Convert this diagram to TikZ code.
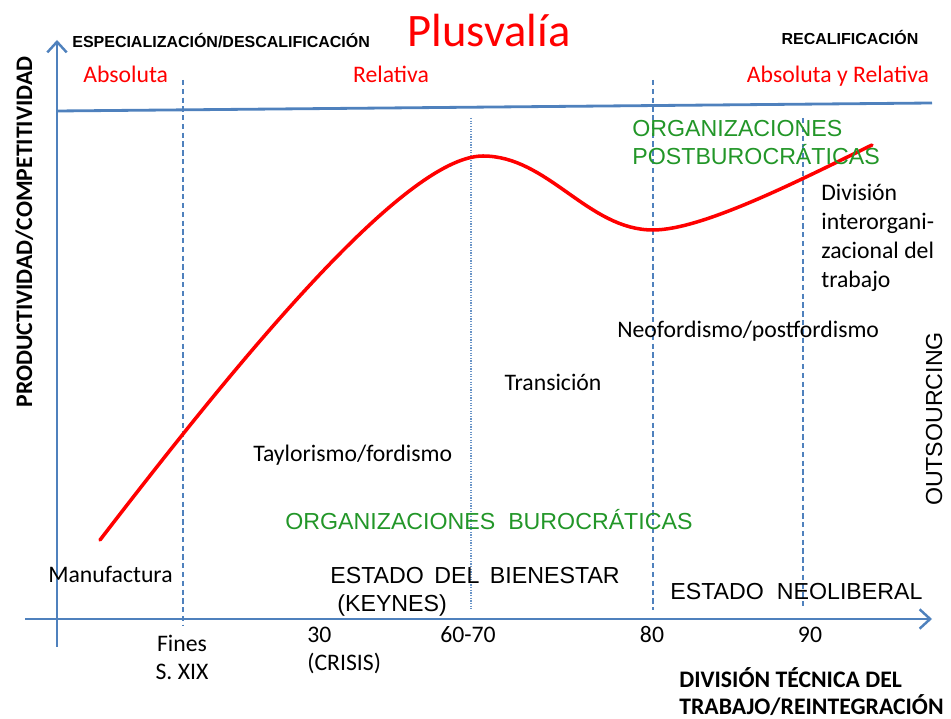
\documentclass[tikz,border=0pt]{standalone}
\usepackage{fontspec}
\setmainfont{Carlito}
\newfontfamily\arialfont{Liberation Sans}
\usetikzlibrary{arrows.meta}

\definecolor{axisblue}{RGB}{79,129,189}
\definecolor{orggreen}{RGB}{34,150,40}
\definecolor{plusred}{RGB}{255,0,0}

\begin{document}
\begin{tikzpicture}[x=0.02cm,y=-0.02cm,
		txt/.style={inner sep=0pt, font=\fontsize{13.5}{16}\selectfont},
		redtxt/.style={txt, text=plusred},
		captxt/.style={inner sep=0pt, font=\arialfont\fontsize{13.2}{16}\selectfont},
		greentxt/.style={captxt, text=orggreen},
		smallcap/.style={inner sep=0pt, font=\arialfont\bfseries\fontsize{9.1}{10}\selectfont},
		axisline/.style={axisblue, line width=1.6pt},
		eraline/.style={axisblue, line width=1.1pt, dash pattern=on 3pt off 2pt}]
				
				\useasboundingbox (0,0) rectangle (951,719);
				
				% axes
				\coordinate (yBot) at (57,647);
				\coordinate (yTop) at (57,40);
				\coordinate (xLeft) at (25,619);
				\coordinate (xRight) at (932,619);
				\draw[axisline, -{Straight Barb[length=6pt, width=11pt, line width=1.4pt]}] (yBot) -- (yTop);
				\draw[axisline, -{Straight Barb[length=6pt, width=11pt, line width=1.4pt]}] (xLeft) -- (xRight);
				\coordinate (topL) at (57,111);
				\coordinate (topR) at (932,103);
				\draw[axisline] (topL) -- (topR);
				
				% periods
				\coordinate (finesTop) at (183,80);
				\coordinate (finesBot) at (183,625);
				\draw[eraline] (finesTop) -- (finesBot);
				\coordinate (crisisTop) at (471,118);
				\coordinate (crisisBot) at (471,610);
				\draw[axisblue!85, line width=0.6pt, dash pattern=on 0.7pt off 0.8pt] (crisisTop) -- (crisisBot);
				\coordinate (ochTop) at (653,80);
				\coordinate (ochBot) at (653,610);
				\draw[eraline] (ochTop) -- (ochBot);
				\coordinate (novTop) at (803,118);
				\coordinate (novBot) at (803,608);
				\draw[eraline] (novTop) -- (novBot);
				
				% plusvalia curve
				\coordinate (cStart) at (100,540);
				\coordinate (cPeak) at (483,156);
				\coordinate (cLow) at (653,230);
				\coordinate (cEnd) at (872,145);
				\draw[plusred, line width=2pt, line cap=round] (cStart) .. controls (230,371) and (403,156) .. (cPeak)
					.. controls (548,156) and (588,230) .. (cLow)
					.. controls (703,230) and (802,179) .. (cEnd);
				
				\node[redtxt, anchor=base, font=\fontsize{26.5}{30}\selectfont] (lblTitle) at (489,47) {Plusvalía};
				\node[smallcap, anchor=base west] (lblEsp) at (72,48) {ESPECIALIZACIÓN/DESCALIFICACIÓN};
				\node[smallcap, anchor=base] (lblRecal) at (850,45) {RECALIFICACIÓN};
				\node[redtxt, anchor=base west] (lblAbs) at (83,83) {Absoluta};
				\node[redtxt, anchor=base] (lblRel) at (391,83) {Relativa};
				\node[redtxt, anchor=base] (lblAbsRel) at (838,83) {Absoluta y Relativa};
				
				\node[greentxt, anchor=base west] (lblPost) at (632,137) {ORGANIZACIONES};
				\node[greentxt, anchor=base west] (lblPost2) at (632,165) {POSTBUROCRÁTICAS};
				\node[txt, anchor=base west] (lblDiv1) at (821,201) {División};
				\node[txt, anchor=base west] (lblDiv2) at (821,230) {interorgani-};
				\node[txt, anchor=base west] (lblDiv3) at (821,259) {zacional del};
				\node[txt, anchor=base west] (lblDiv4) at (821,288) {trabajo};
				
				\node[txt, anchor=base west] (lblNeo) at (617,338) {Neofordismo/postfordismo};
				\node[txt, anchor=base] (lblTrans) at (553,391) {Transición};
				\node[txt, anchor=base west] (lblTaylor) at (253,462) {Taylorismo/fordismo};
				\node[greentxt, anchor=base west] (lblBuro) at (285,530) {ORGANIZACIONES\ \ BUROCRÁTICAS};
				
				\node[txt, anchor=base west] (lblManu) at (48,583) {Manufactura};
				\node[captxt, anchor=base west] (lblBien) at (330,584) {ESTADO\hspace{0.45em}DEL\hspace{0.45em}BIENESTAR};
				\node[captxt, anchor=base west] (lblKeynes) at (337,612) {(KEYNES)};
				\node[captxt, anchor=base west] (lblNeolib) at (670,600) {ESTADO\ \ NEOLIBERAL};
				
				\node[txt, anchor=base] (lblFines) at (182,652) {Fines};
				\node[txt, anchor=base] (lblSXIX) at (182,680) {S. XIX};
				\node[txt, anchor=base west] (lbl30) at (307,643) {30};
				\node[txt, anchor=base west] (lblCrisis) at (307,671) {(CRISIS)};
				\node[txt, anchor=base] (lbl6070) at (468,643) {60-70};
				\node[txt, anchor=base] (lbl80) at (652,643) {80};
				\node[txt, anchor=base] (lbl90) at (810,643) {90};
				
				\node[txt, font=\bfseries\fontsize{13.5}{16}\selectfont, anchor=base west] (lblXAxis) at (679,688) {DIVISIÓN TÉCNICA DEL};
				\node[txt, font=\bfseries\fontsize{13.5}{16}\selectfont, anchor=base west] (lblXAxis2) at (679,715) {TRABAJO/REINTEGRACIÓN};
				\node[txt, font=\bfseries\fontsize{13.5}{16}\selectfont, anchor=base, rotate=90] (lblYAxis) at (32,232) {PRODUCTIVIDAD/COMPETITIVIDAD};
				\node[captxt, anchor=base, rotate=90] (lblOut) at (942,419) {OUTSOURCING};
				
			\end{tikzpicture}
\end{document}
